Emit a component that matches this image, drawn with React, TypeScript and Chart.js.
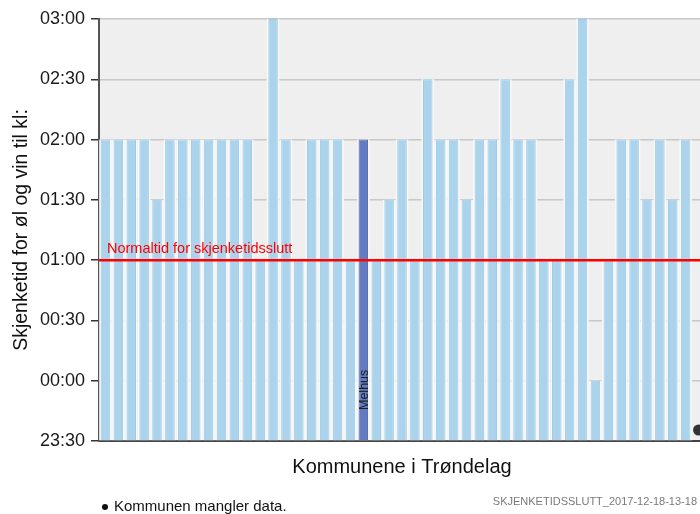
import React, { useEffect, useRef } from "react";
import { Chart, registerables } from "chart.js";

Chart.register(...registerables);

// Kommuner i Trøndelag (kommunenummer-rekkefølge)
const kommuner = [
  "Trondheim", "Steinkjer", "Namsos", "Hemne", "Snillfjord", "Hitra", "Frøya", "Ørland",
  "Agdenes", "Bjugn", "Åfjord", "Roan", "Osen", "Oppdal", "Rennebu", "Meldal", "Orkdal",
  "Røros", "Holtålen", "Midtre Gauldal", "Melhus", "Skaun", "Klæbu", "Malvik", "Selbu",
  "Tydal", "Meråker", "Stjørdal", "Frosta", "Levanger", "Verdal", "Verran", "Namdalseid",
  "Snåsa", "Lierne", "Røyrvik", "Namsskogan", "Grong", "Høylandet", "Overhalla", "Fosnes",
  "Flatanger", "Vikna", "Nærøy", "Leka", "Inderøy", "Indre Fosen",
];

// Skjenketidsslutt, timer etter midnatt (null = mangler data)
const skjenketidsslutt: (number | null)[] = [
  2, 2, 2, 2, 1.5, 2, 2, 2, 2, 2, 2, 2, 1, 3, 2, 1, 2, 2, 2, 1, 2, 1, 1.5, 2, 1, 2.5, 2, 2,
  1.5, 2, 2, 2.5, 2, 2, 1, 1, 2.5, 3, 0, 1, 2, 2, 1.5, 2, 1.5, 2, null,
];

const uthevet = ["Melhus"];
const normaltid = 1;
const normaltidTekst = "Normaltid for skjenketidsslutt";

const yTickValues = [-0.5, 0, 0.5, 1, 1.5, 2, 2.5, 3];
const yTickLabels = ["23:30", "00:00", "00:30", "01:00", "01:30", "02:00", "02:30", "03:00"];

const yTitle = "Skjenketid for øl og vin til kl:";
const xTitle = "Kommunene i Trøndelag";
const fotnote = "Kommunen mangler data.";
const kildeTekst = "SKJENKETIDSSLUTT_2017-12-18-13-18";

const FONT = "'Liberation Sans', Arial, sans-serif";

export default function App() {
  const ref = useRef<HTMLCanvasElement | null>(null);

  useEffect(() => {
    const canvas = ref.current;
    if (!canvas) return;

    const decor = {
      id: "decor",
      beforeDraw(chart: any) {
        const { ctx, chartArea: a } = chart;
        ctx.save();
        ctx.fillStyle = "#EFEFEF";
        ctx.fillRect(a.left, a.top, a.right - a.left, a.bottom - a.top);
        ctx.restore();
      },
      beforeDatasetsDraw(chart: any) {
        const { ctx } = chart;
        const meta = chart.getDatasetMeta(0);
        ctx.save();
        ctx.fillStyle = "#F8F8F8";
        meta.data.forEach((el: any, i: number) => {
          if (skjenketidsslutt[i] == null) return;
          const w = el.width + 3;
          const top = Math.min(el.y, el.base);
          const h = Math.abs(el.base - el.y);
          ctx.fillRect(el.x - w / 2, top, w, h);
        });
        ctx.restore();
      },
      afterDatasetsDraw(chart: any) {
        const { ctx, chartArea: a, scales } = chart;
        const meta = chart.getDatasetMeta(0);
        const y = scales.y;
        const x = scales.x;
        ctx.save();
        // red normal line
        const yl = y.getPixelForValue(normaltid);
        ctx.strokeStyle = "#FF0000";
        ctx.lineWidth = 2.5;
        ctx.beginPath();
        ctx.moveTo(a.left, yl);
        ctx.lineTo(a.right, yl);
        ctx.stroke();
        ctx.fillStyle = "#FF0000";
        ctx.font = `14.5px ${FONT}`;
        ctx.textAlign = "left";
        ctx.textBaseline = "alphabetic";
        ctx.fillText(normaltidTekst, a.left + 8, yl - 7);

        // highlighted labels
        kommuner.forEach((k, i) => {
          if (!uthevet.includes(k)) return;
          const el = meta.data[i];
          ctx.save();
          ctx.translate(el.x, a.bottom - 31);
          ctx.rotate(-Math.PI / 2);
          ctx.fillStyle = "#1E1E1E";
          ctx.font = `12.5px ${FONT}`;
          ctx.textAlign = "left";
          ctx.textBaseline = "middle";
          ctx.fillText(k, 0, 1);
          ctx.restore();
        });

        // missing data dots
        skjenketidsslutt.forEach((v, i) => {
          if (v != null) return;
          const px = x.getPixelForValue(i);
          ctx.fillStyle = "#333333";
          ctx.beginPath();
          ctx.arc(px, a.bottom - 11, 5.5, 0, Math.PI * 2);
          ctx.fill();
        });
        ctx.restore();
      },
      afterDraw(chart: any) {
        const { ctx } = chart;
        ctx.save();
        ctx.fillStyle = "#111";
        ctx.beginPath();
        ctx.arc(105, 507, 3, 0, Math.PI * 2);
        ctx.fill();
        ctx.font = `15px ${FONT}`;
        ctx.textAlign = "left";
        ctx.textBaseline = "middle";
        ctx.fillText(fotnote, 114, 507);
        ctx.fillStyle = "#7A7A7A";
        ctx.font = `11px ${FONT}`;
        ctx.textAlign = "right";
        ctx.fillText(kildeTekst, 697, 502);
        ctx.restore();
      },
    };

    const chart = new Chart(canvas, {
      type: "bar",
      data: {
        labels: kommuner,
        datasets: [
          {
            data: skjenketidsslutt as any,
            base: -0.5,
            backgroundColor: kommuner.map((k) => (uthevet.includes(k) ? "#627CBF" : "#ABD3EC")),
            borderColor: kommuner.map((k) => (uthevet.includes(k) ? "#4A63AE" : "#9CCAE7")),
            borderWidth: 1,
            barPercentage: 0.74,
            categoryPercentage: 1,
          } as any,
        ],
      },
      options: {
        responsive: false,
        maintainAspectRatio: false,
        animation: false,
        devicePixelRatio: 1,
        layout: { padding: { top: 19, right: 7, left: 0, bottom: 0 } },
        plugins: {
          legend: { display: false },
          tooltip: { enabled: false },
          title: { display: false },
        },
        scales: {
          x: {
            type: "category",
            offset: true,
            grid: { display: false },
            ticks: { display: false },
            border: { display: true, color: "#444", width: 2 },
            title: {
              display: true,
              text: xTitle,
              color: "#111",
              font: { family: FONT, size: 20 },
              padding: { top: 0, bottom: 35 },
            },
            afterFit(scale: any) {
              scale.height = 73;
            },
          },
          y: {
            type: "linear",
            min: -0.5,
            max: 3,
            afterBuildTicks(scale: any) {
              scale.ticks = yTickValues.map((v) => ({ value: v }));
            },
            ticks: {
              color: "#1A1A1A",
              font: { family: FONT, size: 18 },
              padding: 6,
              callback: (v: any) => {
                const i = yTickValues.indexOf(Number(v));
                return i >= 0 ? yTickLabels[i] : "";
              },
            },
            grid: {
              color: "#C8C8C8",
              lineWidth: 1.5,
              tickColor: "#333",
              tickLength: 8,
              drawTicks: true,
            },
            border: { display: true, color: "#555", width: 2 },
            title: {
              display: true,
              text: yTitle,
              color: "#111",
              font: { family: FONT, size: 19.5 },
              padding: { top: 10, bottom: 0 },
            },
            afterFit(scale: any) {
              scale.width = 99;
            },
          },
        },
      },
      plugins: [decor],
    });

    return () => chart.destroy();
  }, []);

  return (
    <div
      style={{
        position: "fixed",
        left: 0,
        top: 0,
        width: 700,
        height: 514,
        overflow: "hidden",
        background: "#fff",
      }}
    >
      <canvas ref={ref} width={712} height={514} style={{ width: 712, height: 514, display: "block" }} />
    </div>
  );
}
